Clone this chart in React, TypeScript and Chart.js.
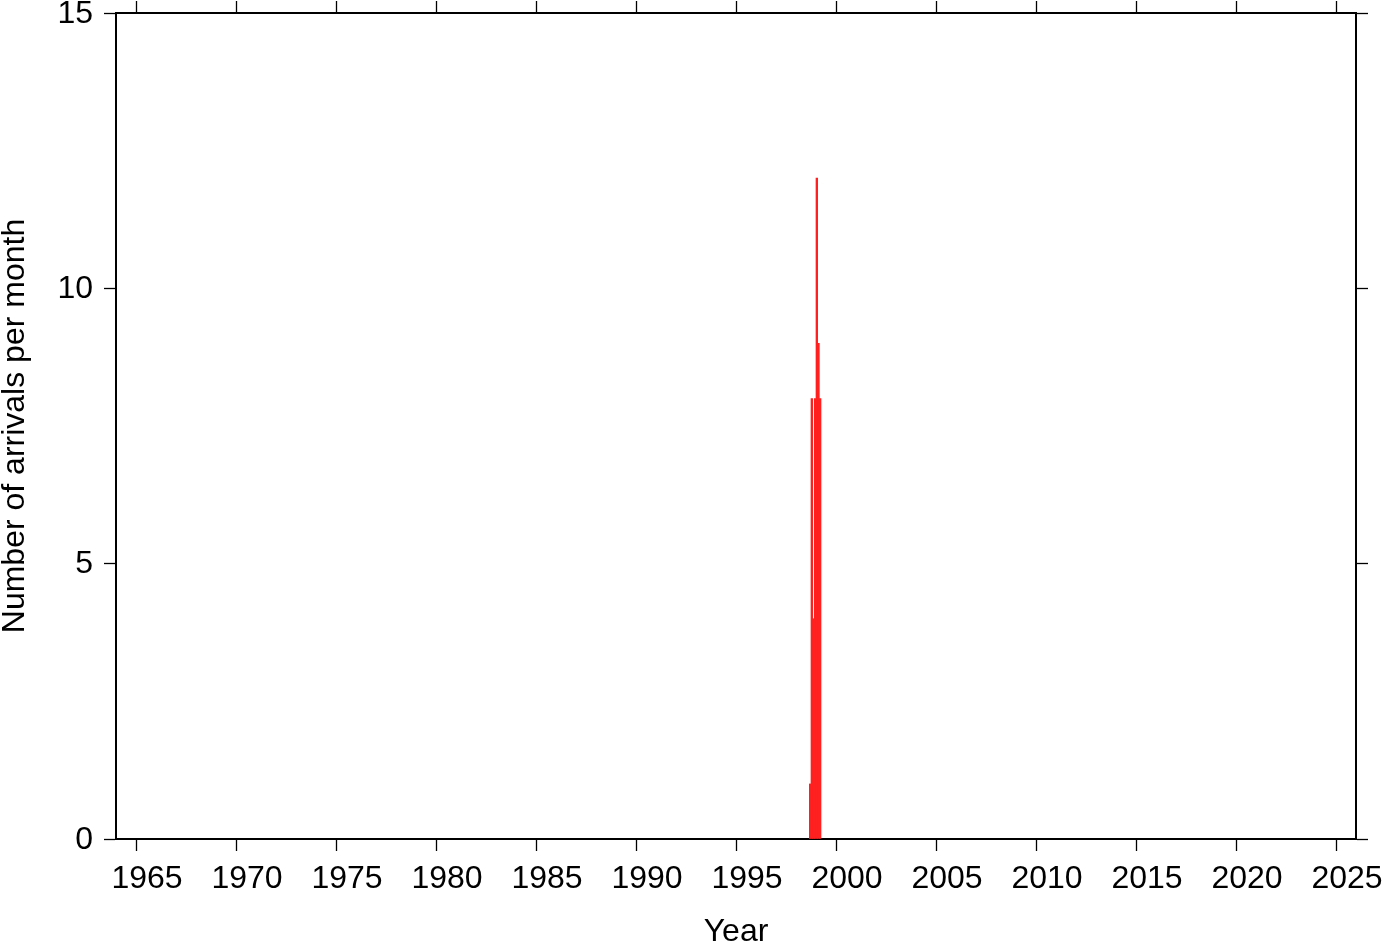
import React, { useEffect, useRef } from "react";
import { Chart, registerables } from "chart.js";

Chart.register(...registerables);

// Monthly arrival counts (only non-zero months shown)
const monthLabels = ["1998-09", "1998-10", "1998-11", "1998-12", "1999-01", "1999-02", "1999-03"];
const arrivalCounts = [1, 8, 4, 8, 12, 9, 8];

const xTickYears = [1965, 1970, 1975, 1980, 1985, 1990, 1995, 2000, 2005, 2010, 2015, 2020, 2025];
const yTickValues = [0, 5, 10, 15];

const X_MIN = 1964;
const X_MAX = 2026;
const Y_MIN = 0;
const Y_MAX = 15;

function monthToDecimal(label: string): number {
  const [y, m] = label.split("-").map(Number);
  return y + (m - 1 + 0.5) / 12;
}

const FONT = "'Liberation Sans', Arial, Helvetica, sans-serif";

export default function App() {
  const ref = useRef<HTMLCanvasElement | null>(null);

  useEffect(() => {
    if (!ref.current) return;
    const data = monthLabels.map((l, i) => ({ x: monthToDecimal(l), y: arrivalCounts[i] }));
    const tickFont = { family: FONT, size: 32 };
    const borderCfg = { display: true, color: "#000", width: 2 };
    const gridCfg = {
      display: true,
      offset: false,
      drawOnChartArea: false,
      drawTicks: true,
      tickLength: 12,
      tickWidth: 1.3,
      tickColor: "#000",
    };
    const noPadV = (s: any) => {
      s.paddingTop = 0;
      s.paddingBottom = 0;
    };
    const noPadH = (s: any) => {
      s.paddingLeft = 0;
      s.paddingRight = 0;
    };
    const chart = new Chart(ref.current, {
      type: "bar",
      data: {
        datasets: [
          {
            label: "Arrivals",
            data,
            backgroundColor: "#ff2020",
            borderWidth: 0,
            barPercentage: 1,
            categoryPercentage: 1,
            xAxisID: "x",
            yAxisID: "y",
          },
        ],
      },
      options: {
        responsive: false,
        animation: false,
        devicePixelRatio: 1,
        layout: { padding: 0 },
        plugins: { legend: { display: false }, tooltip: { enabled: false } },
        scales: {
          x: {
            type: "linear",
            position: "bottom",
            min: X_MIN,
            max: X_MAX,
            offset: false,
            border: borderCfg,
            grid: gridCfg,
            afterBuildTicks: (s: any) => {
              s.ticks = xTickYears.map((v) => ({ value: v }));
            },
            ticks: {
              color: "#000",
              font: tickFont,
              padding: 9,
              labelOffset: 11,
              maxRotation: 0,
              autoSkip: false,
              callback: (v: any) => String(v),
            },
            title: {
              display: true,
              text: "Year",
              color: "#000",
              font: tickFont,
              padding: { top: 0, bottom: -9 },
            },
            afterFit: (s: any) => {
              s.height = 103;
              noPadH(s);
            },
          },
          x2: {
            type: "linear",
            position: "top",
            min: X_MIN,
            max: X_MAX,
            offset: false,
            border: borderCfg,
            grid: gridCfg,
            afterBuildTicks: (s: any) => {
              s.ticks = xTickYears.map((v) => ({ value: v }));
            },
            ticks: { display: false },
            afterFit: (s: any) => {
              s.height = 13;
              noPadH(s);
            },
          },
          y: {
            type: "linear",
            position: "left",
            min: Y_MIN,
            max: Y_MAX,
            border: borderCfg,
            grid: gridCfg,
            afterBuildTicks: (s: any) => {
              s.ticks = yTickValues.map((v) => ({ value: v }));
            },
            ticks: {
              color: "#000",
              font: tickFont,
              padding: 11,
              labelOffset: 1,
              callback: (v: any) => String(v),
            },
            title: {
              display: true,
              text: "Number of arrivals per month",
              color: "#000",
              font: tickFont,
              padding: { top: -4, bottom: 0 },
            },
            afterFit: (s: any) => {
              s.width = 116;
              noPadV(s);
            },
          },
          y2: {
            type: "linear",
            position: "right",
            min: Y_MIN,
            max: Y_MAX,
            border: borderCfg,
            grid: gridCfg,
            afterBuildTicks: (s: any) => {
              s.ticks = yTickValues.map((v) => ({ value: v }));
            },
            ticks: { display: false },
            afterFit: (s: any) => {
              s.width = 26;
              noPadV(s);
            },
          },
        },
      } as any,
    });
    return () => chart.destroy();
  }, []);

  return (
    <div style={{ position: "fixed", left: 0, top: 0, width: 1382, height: 942, background: "#fff" }}>
      <canvas ref={ref} width={1382} height={942} style={{ display: "block" }} />
    </div>
  );
}
